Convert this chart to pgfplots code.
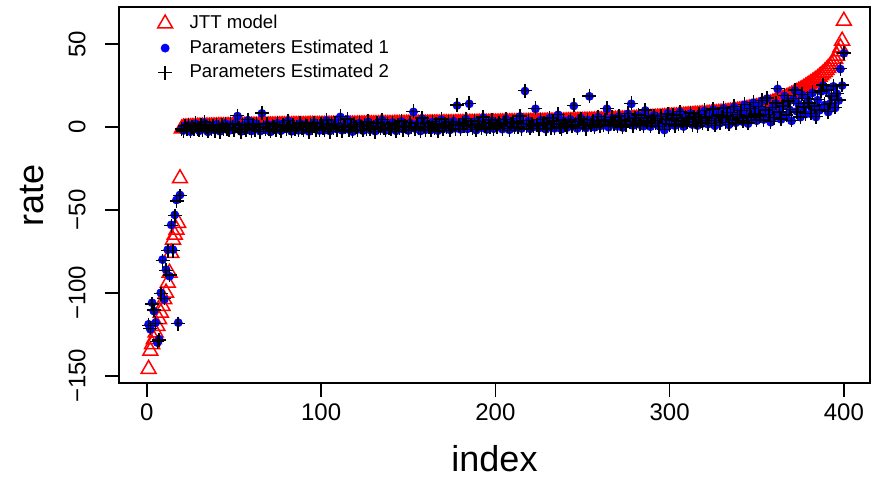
\documentclass[border=0pt]{standalone}
\usepackage{fontspec}
\setmainfont{Liberation Sans}
\usepackage{pgfplots}
\usepackage{pgfplotstable}
\pgfplotsset{compat=1.18}

% index, JTT model, estimate 1, estimate 2
\pgfplotstableread{
x j a b
1 -146 -119 -119.6
2 -135 -122 -121.5
3 -131 -106 -106.7
4 -128 -111 -110.4
5 -124 -118 -118.5
6 -120 -130 -129.4
7 -116 -128 -128.6
8 -112 -100 -100.5
9 -108 -80 -80.6
10 -104 -104 -103.4
11 -100 -86 -86.5
12 -94 -74 -74.6
13 -88 -90 -89.4
14 -76 -59 -59.5
15 -68 -74 -74.6
16 -65 -53 -53.4
17 -62 -44 -44.5
18 -58 -118 -118.6
19 -31 -41 -41.4
20 -1.0 -0.9 -1.2
21 -0.5 -2.1 -2.4
22 -0.4 0.8 0.6
23 -0.4 -1.6 -1.3
24 -0.3 1.2 1.5
25 -0.3 -2.8 -2.5
26 -0.2 0.4 0.1
27 -0.2 -1.1 -1.4
28 -0.1 1.9 2.2
29 -0.1 -0.6 -0.9
30 0.0 -2.3 -2.0
31 0.0 0.9 1.1
32 0.0 -1.4 -1.7
33 0.1 2.6 2.9
34 0.1 -0.2 0.1
35 0.1 -2.9 -2.6
36 0.1 1.1 0.8
37 0.2 -0.8 -1.1
38 0.2 0.3 0.6
39 0.2 -1.9 -2.2
40 0.2 1.6 1.4
41 0.3 -0.4 -0.1
42 0.3 -2.6 -2.9
43 0.3 0.7 1.0
44 0.3 -1.2 -0.9
45 0.3 2.1 1.8
46 0.4 -0.7 -1.0
47 0.4 -2.2 -1.9
48 0.4 1.3 1.6
49 0.4 0.1 -0.2
50 0.4 -1.5 -1.8
51 0.5 2.4 2.1
52 0.5 6.6 6.9
53 0.5 -0.9 -0.6
54 0.5 -2.7 -3.0
55 0.5 1.0 1.3
56 0.5 -0.3 -0.6
57 0.5 -1.8 -1.5
58 0.6 4.1 4.4
59 0.6 -0.5 -0.8
60 0.6 -2.4 -2.1
61 0.6 0.9 1.2
62 0.6 -1.3 -1.6
63 0.6 2.0 1.7
64 0.7 -0.2 0.1
65 0.7 -2.5 -2.8
66 0.7 8.2 8.5
67 0.7 0.5 0.2
68 0.7 -1.7 -1.4
69 0.7 1.6 1.9
70 0.8 -0.8 -1.1
71 0.8 -2.9 -2.6
72 0.8 1.2 0.9
73 0.8 0.0 0.3
74 0.8 -1.6 -1.9
75 0.8 2.3 2.6
76 0.9 -0.6 -0.3
77 0.9 -2.2 -2.5
78 0.9 1.4 1.1
79 0.9 0.2 0.5
80 0.9 -1.1 -1.4
81 0.9 3.6 3.9
82 0.9 -0.4 -0.7
83 0.9 -2.6 -2.3
84 1.0 1.1 1.4
85 1.0 -1.0 -1.3
86 1.0 0.6 0.3
87 1.0 -2.0 -1.7
88 1.0 2.2 2.5
89 1.0 -0.1 -0.4
90 1.0 -1.8 -1.5
91 1.0 1.5 1.2
92 1.0 0.3 0.6
93 1.1 -2.7 -3.0
94 1.1 0.9 1.2
95 1.1 -0.9 -0.6
96 1.1 2.6 2.3
97 1.1 -1.4 -1.7
98 1.1 0.1 0.4
99 1.1 -2.1 -1.8
100 1.1 1.7 2.0
101 1.1 -0.3 -0.6
102 1.1 -1.9 -1.6
103 1.2 3.9 4.2
104 1.2 0.4 0.1
105 1.2 -2.4 -2.7
106 1.2 1.3 1.6
107 1.2 -0.8 -0.5
108 1.2 2.5 2.2
109 1.2 -1.2 -1.5
110 1.2 0.7 1.0
111 1.2 6.1 6.4
112 1.3 -2.0 -2.3
113 1.3 1.0 0.7
114 1.3 -0.5 -0.2
115 1.3 4.6 4.9
116 1.3 -1.6 -1.9
117 1.3 0.2 0.5
118 1.3 -2.8 -2.5
119 1.3 1.9 1.6
120 1.3 -0.1 0.2
121 1.4 -1.4 -1.7
122 1.4 2.3 2.6
123 1.4 0.5 0.2
124 1.4 -2.2 -1.9
125 1.4 1.2 1.5
126 1.4 -0.6 -0.9
127 1.5 3.1 3.4
128 1.5 -1.7 -1.4
129 1.5 0.8 0.5
130 1.5 -0.2 0.1
131 1.5 -2.5 -2.8
132 1.5 2.0 2.3
133 1.5 0.3 0.0
134 1.6 -1.1 -0.8
135 1.6 4.2 4.5
136 1.6 -0.4 -0.7
137 1.6 -2.0 -1.7
138 1.6 1.5 1.8
139 1.6 0.0 -0.3
140 1.6 -1.5 -1.2
141 1.6 2.7 2.4
142 1.7 0.6 0.9
143 1.7 -2.3 -2.6
144 1.7 1.3 1.0
145 1.7 -0.7 -0.4
146 1.7 3.4 3.7
147 1.7 -1.3 -1.6
148 1.7 0.9 0.6
149 1.8 -0.1 0.2
150 1.8 -2.1 -1.8
151 1.8 2.4 2.7
152 1.8 0.4 0.1
153 1.8 9.1 9.4
154 1.8 -1.0 -1.3
155 1.8 1.7 2.0
156 1.9 -0.3 -0.6
157 1.9 -2.4 -2.1
158 1.9 5.0 5.3
159 1.9 0.7 0.4
160 1.9 -1.6 -1.9
161 1.9 2.1 2.4
162 1.9 0.2 -0.1
163 2.0 -1.8 -1.5
164 2.0 3.0 3.3
165 2.0 -0.5 -0.8
166 2.0 1.4 1.7
167 2.0 -2.2 -2.5
168 2.0 0.8 0.5
169 2.0 4.4 4.7
170 2.1 -1.2 -0.9
171 2.1 1.9 1.6
172 2.1 -0.2 0.1
173 2.1 2.8 3.1
174 2.1 -1.7 -2.0
175 2.1 0.6 0.9
176 2.1 3.5 3.2
177 2.2 -0.8 -1.1
178 2.2 13.0 13.3
179 2.2 1.1 1.4
180 2.2 -1.4 -1.1
181 2.2 2.6 2.3
182 2.2 0.3 0.6
183 2.3 4.8 5.1
184 2.3 -1.1 -1.4
185 2.3 14.0 14.3
186 2.3 1.6 1.3
187 2.3 -0.6 -0.3
188 2.3 3.3 3.6
189 2.3 -1.9 -1.6
190 2.4 0.9 1.2
191 2.4 2.5 2.2
192 2.4 -0.4 -0.7
193 2.4 5.6 5.9
194 2.4 0.1 0.4
195 2.4 -1.5 -1.2
196 2.4 2.0 2.3
197 2.5 0.6 0.3
198 2.5 3.8 4.1
199 2.5 -1.0 -1.3
200 2.5 1.3 1.6
201 2.5 -0.2 0.1
202 2.5 3.0 2.7
203 2.6 0.8 1.1
204 2.6 -1.3 -1.0
205 2.6 2.2 2.5
206 2.6 4.9 4.6
207 2.6 0.1 0.4
208 2.7 -1.7 -2.0
209 2.7 1.8 2.1
210 2.7 3.4 3.1
211 2.7 -0.5 -0.2
212 2.7 2.6 2.9
213 2.8 0.4 0.1
214 2.8 6.3 6.6
215 2.8 -0.9 -1.2
216 2.8 1.5 1.8
217 2.8 21.7 22.0
218 2.8 0.7 0.4
219 2.9 3.6 3.9
220 2.9 -1.1 -0.8
221 2.9 2.3 2.0
222 2.9 0.2 0.5
223 2.9 11.0 11.3
224 3.0 1.7 1.4
225 3.0 -0.7 -1.0
226 3.0 4.1 4.4
227 3.0 0.9 1.2
228 3.0 2.8 2.5
229 3.0 -1.4 -1.1
230 3.1 1.2 1.5
231 3.1 5.2 5.5
232 3.1 0.0 -0.3
233 3.1 3.3 3.6
234 3.1 -0.8 -0.5
235 3.1 2.0 1.7
236 3.2 7.4 7.7
237 3.2 0.6 0.3
238 3.2 -1.2 -0.9
239 3.2 3.9 4.2
240 3.2 1.4 1.1
241 3.3 -0.4 -0.1
242 3.3 2.7 3.0
243 3.3 4.5 4.2
244 3.4 0.3 0.6
245 3.4 12.7 13.0
246 3.4 1.9 1.6
247 3.5 -0.9 -0.6
248 3.5 3.1 3.4
249 3.5 5.4 5.1
250 3.5 0.8 1.1
251 3.6 2.4 2.7
252 3.6 -0.6 -0.9
253 3.6 4.2 4.5
254 3.7 18.5 18.8
255 3.7 1.3 1.0
256 3.7 3.6 3.9
257 3.8 -0.2 0.1
258 3.8 2.1 1.8
259 3.8 6.0 6.3
260 3.9 0.7 0.4
261 3.9 3.3 3.6
262 3.9 1.0 1.3
263 4.0 4.8 4.5
264 4.0 11.0 11.3
265 4.0 -0.1 0.2
266 4.1 2.9 2.6
267 4.1 5.5 5.8
268 4.1 1.6 1.9
269 4.2 3.8 3.5
270 4.2 0.4 0.7
271 4.3 6.4 6.7
272 4.3 2.2 1.9
273 4.4 -0.3 0.0
274 4.4 4.0 4.3
275 4.5 1.8 1.5
276 4.5 7.9 8.2
277 4.6 3.0 3.3
278 4.6 14.0 14.3
279 4.7 0.9 0.6
280 4.7 5.0 5.3
281 4.8 2.6 2.3
282 4.8 6.9 7.2
283 4.9 1.4 1.7
284 4.9 4.3 4.0
285 5.0 0.5 0.8
286 5.0 10.0 10.3
287 5.1 2.8 3.1
288 5.1 5.7 5.4
289 5.2 0.2 0.5
290 5.3 3.6 3.9
291 5.3 7.1 6.8
292 5.4 1.9 2.2
293 5.5 4.7 5.0
294 5.5 0.6 0.3
295 5.6 6.2 6.5
296 5.7 2.5 2.2
297 5.8 -1.8 -1.5
298 5.8 4.1 4.4
299 5.9 8.3 8.0
300 6.0 1.2 1.5
301 6.1 3.9 4.2
302 6.2 7.0 7.3
303 6.2 0.8 0.5
304 6.3 5.2 5.5
305 6.4 2.1 1.8
306 6.5 9.0 9.3
307 6.5 3.4 3.7
308 6.6 0.3 0.6
309 6.7 6.1 5.8
310 6.8 2.7 3.0
311 6.9 4.6 4.9
312 6.9 8.1 8.4
313 7.0 1.5 1.2
314 7.1 5.6 5.9
315 7.2 3.0 3.3
316 7.2 0.9 0.6
317 7.3 7.4 7.7
318 7.4 4.2 3.9
319 7.5 2.2 2.5
320 7.5 9.7 10.0
321 7.6 5.0 5.3
322 7.7 1.7 2.0
323 7.8 6.8 6.5
324 7.9 3.5 3.8
325 8.0 10.5 10.8
326 8.1 0.7 1.0
327 8.2 4.9 5.2
328 8.3 7.6 7.3
329 8.4 2.4 2.7
330 8.5 5.8 6.1
331 8.6 11.2 11.5
332 8.7 3.1 2.8
333 8.8 6.5 6.8
334 8.9 1.3 1.6
335 9.1 8.4 8.7
336 9.2 4.0 4.3
337 9.4 12.1 12.4
338 9.5 2.6 2.3
339 9.7 7.2 7.5
340 9.8 5.1 5.4
341 10.0 9.6 9.9
342 10.2 3.2 3.5
343 10.4 13.4 13.7
344 10.6 7.0 6.7
345 10.8 2.0 2.3
346 11.0 10.8 11.1
347 11.2 5.5 5.8
348 11.4 14.6 14.9
349 11.6 8.2 7.9
350 11.8 3.8 4.1
351 12.0 12.0 12.3
352 12.2 6.4 6.7
353 12.5 15.8 16.1
354 12.8 4.5 4.2
355 13.1 9.9 10.2
356 13.4 17.2 17.5
357 13.7 7.3 7.6
358 14.0 2.9 3.2
359 14.4 11.6 11.9
360 14.8 6.0 5.7
361 15.2 14.3 14.6
362 15.6 23.0 23.3
363 16.0 8.8 9.1
364 16.4 4.6 4.9
365 16.9 12.9 12.6
366 17.4 18.6 18.9
367 17.8 6.9 7.2
368 18.3 15.4 15.7
369 18.8 10.3 10.6
370 19.3 3.7 4.0
371 19.8 16.8 17.1
372 20.4 22.0 22.3
373 21.0 9.5 9.2
374 21.6 13.8 14.1
375 22.2 5.9 6.2
376 22.8 19.4 19.7
377 23.5 11.7 12.0
378 24.2 7.8 8.1
379 24.9 17.6 17.3
380 25.6 14.2 14.5
381 26.3 8.0 8.3
382 27.0 20.6 20.9
383 27.8 12.4 12.7
384 28.6 6.0 6.3
385 29.4 16.2 16.5
386 30.3 10.1 10.4
387 31.2 21.5 21.8
388 32.2 25.0 25.3
389 33.2 13.3 13.6
390 34.3 22.0 22.3
391 35.5 9.0 9.3
392 36.7 14.0 14.3
393 38.0 18.4 18.7
394 39.5 24.5 24.8
395 41.0 11.5 11.8
396 43.0 20.0 20.3
397 45.5 16.0 16.3
398 48.0 35.0 35.3
399 52.0 25.0 25.3
400 64.0 44.5 44.8
}\rates

\begin{document}
\begin{tikzpicture}
\begin{axis}[
  scale only axis, width=375.5pt, height=188pt,
  xmin=-16, xmax=415, ymin=-154.4, ymax=72.4,
  xtick={0,100,200,300,400},
  ytick={-150,-100,-50,0,50},
  yticklabels={−150,−100,−50,0,50},
  tick pos=left, tick align=outside, major tick length=7pt,
  axis line style={line width=0.8pt},
  every tick/.style={black,line width=0.8pt},
  tick label style={font=\fontsize{12}{14}\selectfont},
  /pgf/number format/assume math mode=true,
  yticklabel style={rotate=90,anchor=south,inner ysep=9.5pt},
  xlabel={index}, ylabel={rate},
  label style={font=\fontsize{18}{21}\selectfont},
  xlabel style={at={(axis description cs:0.5,-0.2021)},anchor=center},
  ylabel style={at={(axis description cs:-0.1158,0.5)},anchor=center},
  legend style={draw=none, fill=none, at={(axis description cs:0.043,1.0)},
    anchor=north west, font=\fontsize{9.3}{11}\selectfont, row sep=0pt,
    column sep=6.5pt},
  legend cell align=left,
]
\addplot[only marks, mark=triangle, mark size=4.3pt, red,
  mark options={line width=0.75pt}] table[x=x,y=j]{\rates};
\addlegendentry{JTT model}
\addplot[only marks, mark=*, mark size=2pt, blue] table[x=x,y=a]{\rates};
\addlegendentry{Parameters Estimated 1}
\addplot[only marks, mark=+, mark size=3.5pt, black,
  mark options={line width=0.75pt}] table[x=x,y=b]{\rates};
\addlegendentry{Parameters Estimated 2}
\coordinate (bl) at (rel axis cs:0,0);
\coordinate (tr) at (rel axis cs:1,1);
\end{axis}
\pgfresetboundingbox
\path ([shift={(-59.5pt,-47pt)}]bl) rectangle ([shift={(4pt,3.5pt)}]tr);
\end{tikzpicture}
\end{document}
